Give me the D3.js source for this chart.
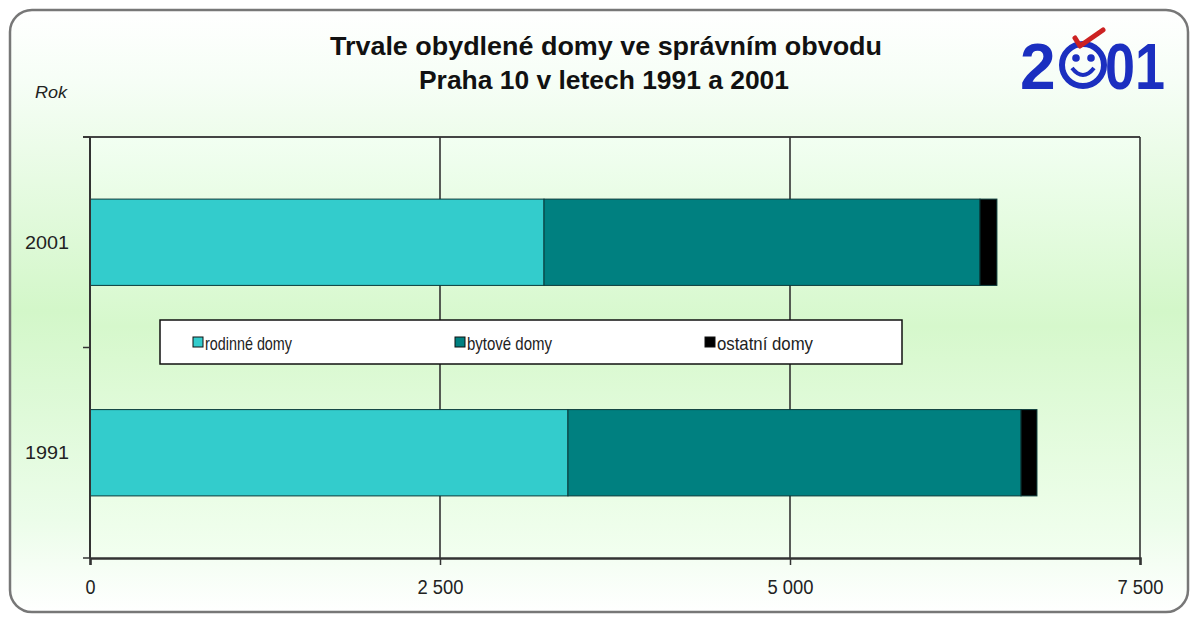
<!DOCTYPE html>
<meta charset="utf-8">
<script src="https://d3js.org/d3.v7.min.js"></script>
<style>
  body { margin: 0; background: #fff; }
  text { font-family: "Liberation Sans Narrow", "Liberation Sans", Arial, sans-serif; fill: #222; }
</style>
<div id="chart"></div>
<script>

// data
var years = ["2001", "1991"];
var seriesNames = ["rodinné domy", "bytové domy", "ostatní domy"];
var rodinne = [3243, 3414];
var bytove = [3114, 3236];
var ostatni = [121, 114];
var xTicks = [0, 2500, 5000, 7500];
var colors = ["#33cccc", "#008080", "#000000"];

var W = 1193, H = 621;

var svg = d3.select("#chart").append("svg")
  .attr("width", W)
  .attr("height", H);

// background gradient
var defs = svg.append("defs");
var grad = defs.append("linearGradient")
  .attr("id", "bg").attr("x1", 0).attr("y1", 0).attr("x2", 0).attr("y2", 1);
grad.append("stop").attr("offset", "0%").attr("stop-color", "#ffffff");
grad.append("stop").attr("offset", "12%").attr("stop-color", "#f6fef6");
grad.append("stop").attr("offset", "50%").attr("stop-color", "#d3f7c9");
grad.append("stop").attr("offset", "85%").attr("stop-color", "#ecfdea");
grad.append("stop").attr("offset", "100%").attr("stop-color", "#ffffff");

var inner = defs.append("linearGradient")
  .attr("id", "plotbg").attr("x1", 0).attr("y1", 0).attr("x2", 0).attr("y2", 1);
inner.append("stop").attr("offset", "0%").attr("stop-color", "#f2fff2");
inner.append("stop").attr("offset", "45%").attr("stop-color", "#d6f8cc");
inner.append("stop").attr("offset", "100%").attr("stop-color", "#f2fff0");

// outer frame
svg.append("rect")
  .attr("x", 10).attr("y", 10)
  .attr("width", 1178).attr("height", 602)
  .attr("rx", 22).attr("ry", 22)
  .attr("fill", "url(#bg)")
  .attr("stroke", "#777")
  .attr("stroke-width", 2.5);

// scales
var x = d3.scaleLinear().domain([0, 7500]).range([90, 1140]);
var y = d3.scaleBand().domain(years).range([137, 558])
  .paddingInner(0.59).paddingOuter(0.295);

// plot area
svg.append("rect")
  .attr("x", x(0)).attr("y", 137)
  .attr("width", x(7500) - x(0)).attr("height", 558 - 137)
  .attr("fill", "url(#plotbg)");

// top border
svg.append("line")
  .attr("x1", 83).attr("x2", x(7500))
  .attr("y1", 137).attr("y2", 137)
  .attr("stroke", "#444").attr("stroke-width", 2);

// gridlines
svg.append("g")
  .selectAll("line")
  .data(xTicks.slice(1))
  .enter().append("line")
    .attr("x1", function (d) { return x(d); })
    .attr("x2", function (d) { return x(d); })
    .attr("y1", 137).attr("y2", 558)
    .attr("stroke", "#333").attr("stroke-width", 1.6);

// stacked bars
var rows = years.map(function (yr, i) {
  return { year: yr, vals: [rodinne[i], bytove[i], ostatni[i]] };
});

rows.forEach(function (r) {
  var acc = 0;
  r.vals.forEach(function (v, j) {
    svg.append("rect")
      .attr("x", x(acc))
      .attr("y", y(r.year))
      .attr("width", x(acc + v) - x(acc))
      .attr("height", y.bandwidth())
      .attr("fill", colors[j])
      .attr("stroke", "#0a3a3a")
      .attr("stroke-width", 1);
    acc += v;
  });
});

// x axis
var fmt = function (d) { return d3.format(",")(d).replace(",", " "); };
var xAxis = svg.append("g")
  .attr("transform", "translate(0,558)")
  .call(d3.axisBottom(x).tickValues(xTicks).tickSize(7).tickPadding(15)
    .tickFormat(fmt));
xAxis.select(".domain").attr("stroke", "#333").attr("stroke-width", 2.5);
xAxis.selectAll(".tick line").attr("stroke", "#333").attr("stroke-width", 1.5);
xAxis.selectAll("text")
  .style("font-family", "'Liberation Sans', Arial, sans-serif")
  .style("font-size", "20px").style("fill", "#222")
  .attr("textLength", function (d) { return d === 0 ? 10 : 46; })
  .attr("lengthAdjust", "spacingAndGlyphs");

// y axis: line with ticks at band boundaries
svg.append("line")
  .attr("x1", x(0)).attr("x2", x(0))
  .attr("y1", 137).attr("y2", 558)
  .attr("stroke", "#333").attr("stroke-width", 2);
var bounds = [137, (137 + 558) / 2, 558];
svg.append("g").selectAll("line")
  .data(bounds)
  .enter().append("line")
    .attr("x1", 83).attr("x2", x(0))
    .attr("y1", function (d) { return d; })
    .attr("y2", function (d) { return d; })
    .attr("stroke", "#333").attr("stroke-width", 1.5);

svg.append("g").selectAll("text")
  .data(years)
  .enter().append("text")
    .attr("x", 69)
    .attr("y", function (d) { return y(d) + y.bandwidth() / 2; })
    .attr("dy", "0.35em")
    .style("text-anchor", "end")
    .style("font-size", "19px")
    .attr("textLength", 44)
    .attr("lengthAdjust", "spacingAndGlyphs")
    .text(function (d) { return d; });

// axis title
svg.append("text")
  .attr("x", 35).attr("y", 98)
  .style("font-size", "17px")
  .style("font-style", "italic")
  .attr("textLength", 32)
  .attr("lengthAdjust", "spacingAndGlyphs")
  .text("Rok");

// title
svg.append("text")
  .attr("x", 330).attr("y", 55)
  .style("font-size", "25px").style("font-weight", "bold")
  .style("fill", "#111")
  .attr("textLength", 552)
  .attr("lengthAdjust", "spacingAndGlyphs")
  .text("Trvale obydlené domy ve správním obvodu");
svg.append("text")
  .attr("x", 419).attr("y", 89)
  .style("font-size", "25px").style("font-weight", "bold")
  .style("fill", "#111")
  .attr("textLength", 370)
  .attr("lengthAdjust", "spacingAndGlyphs")
  .text("Praha 10 v letech 1991 a 2001");

// legend
var legend = svg.append("g");
legend.append("rect")
  .attr("x", 160).attr("y", 320)
  .attr("width", 742).attr("height", 44)
  .attr("fill", "#fff").attr("stroke", "#111").attr("stroke-width", 1.5);
var legX = [193, 455, 705];
var legLen = [87, 85, 96];
seriesNames.forEach(function (name, i) {
  legend.append("rect")
    .attr("x", legX[i]).attr("y", 337)
    .attr("width", 10).attr("height", 10)
    .attr("fill", colors[i]).attr("stroke", "#111").attr("stroke-width", 1);
  legend.append("text")
    .attr("x", legX[i] + 12).attr("y", 343)
    .attr("dy", "0.35em")
    .style("font-size", "19px")
    .attr("textLength", legLen[i])
    .attr("lengthAdjust", "spacingAndGlyphs")
    .text(name);
});

// census logo "2001" with smiley
var blue = "#1b2fc0";
var logo = svg.append("g");
logo.append("text")
  .attr("x", 1020).attr("y", 89)
  .style("font-family", "'Liberation Sans', Arial, sans-serif")
  .style("font-size", "64px").style("font-weight", "bold")
  .style("fill", blue)
  .text("2");
logo.append("circle")
  .attr("cx", 1083).attr("cy", 65).attr("r", 21)
  .attr("fill", "none").attr("stroke", blue).attr("stroke-width", 6);
logo.append("circle").attr("cx", 1076).attr("cy", 58).attr("r", 3.8).attr("fill", blue);
logo.append("circle").attr("cx", 1091).attr("cy", 58).attr("r", 3.8).attr("fill", blue);
logo.append("path")
  .attr("d", "M1072,68 Q1083,82 1094,68")
  .attr("fill", "none").attr("stroke", blue).attr("stroke-width", 4);
logo.append("text")
  .attr("x", 1105).attr("y", 89)
  .style("font-family", "'Liberation Sans', Arial, sans-serif")
  .style("font-size", "64px").style("font-weight", "bold")
  .style("fill", blue)
  .attr("textLength", 60)
  .attr("lengthAdjust", "spacingAndGlyphs")
  .text("01");
svg.append("path")
  .attr("d", "M1075,38 L1080,46 L1103,30")
  .attr("fill", "none").attr("stroke", "#cc2222").attr("stroke-width", 5)
  .attr("stroke-linecap", "round").attr("stroke-linejoin", "round");

</script>
